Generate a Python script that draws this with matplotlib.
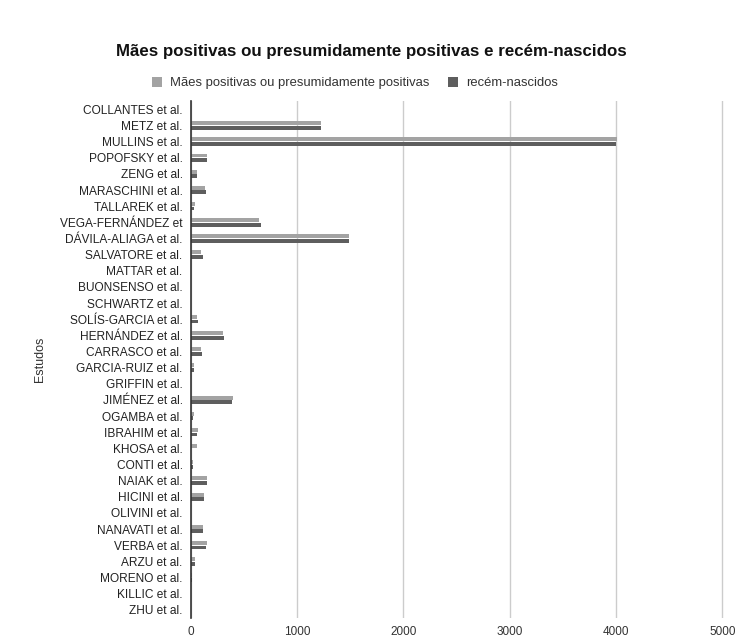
import numpy as np
import matplotlib.pyplot as plt

plt.rcParams['font.family'] = ['Liberation Sans', 'DejaVu Sans']

# Dados
estudos = ['COLLANTES et al.', 'METZ et al.', 'MULLINS et al.', 'POPOFSKY et al.',
           'ZENG et al.', 'MARASCHINI et al.', 'TALLAREK et al.', 'VEGA-FERNÁNDEZ et',
           'DÁVILA-ALIAGA et al.', 'SALVATORE et al.', 'MATTAR et al.', 'BUONSENSO et al.',
           'SCHWARTZ et al.', 'SOLÍS-GARCIA et al.', 'HERNÁNDEZ et al.', 'CARRASCO et al.',
           'GARCIA-RUIZ et al.', 'GRIFFIN et al.', 'JIMÉNEZ et al.', 'OGAMBA et al.',
           'IBRAHIM et al.', 'KHOSA et al.', 'CONTI et al.', 'NAIAK et al.',
           'HICINI et al.', 'OLIVINI et al.', 'NANAVATI et al.', 'VERBA et al.',
           'ARZU et al.', 'MORENO et al.', 'KILLIC et al.', 'ZHU et al.']
maes = [5, 1220, 4010, 150, 60, 135, 40, 645,
        1490, 95, 5, 3, 3, 60, 305, 95,
        30, 3, 400, 30, 65, 60, 20, 150,
        125, 3, 115, 150, 40, 10, 3, 3]
recem = [5, 1220, 4000, 150, 60, 140, 30, 658,
         1490, 115, 5, 3, 3, 65, 315, 105,
         30, 3, 390, 15, 60, 5, 20, 150,
         120, 3, 115, 145, 35, 10, 3, 3]

fig = plt.figure(figsize=(7.43, 6.41), dpi=100)
ax = fig.add_axes([0.257, 0.036, 0.718, 0.806])

y = np.arange(len(estudos))
h = 0.24
ax.barh(y - 0.14, maes, height=h, color='#a3a3a3', label='Mães positivas ou presumidamente positivas')
ax.barh(y + 0.14, recem, height=h, color='#5e5e5e', label='recém-nascidos')

ax.set_ylim(len(estudos) - 0.5, -0.5)
ax.set_xlim(0, 5020)
ax.set_xticks([0, 1000, 2000, 3000, 4000, 5000])
ax.set_yticks(y)
ax.set_yticklabels(estudos, fontsize=8.6, color='#222222')
ax.tick_params(axis='x', labelsize=8.5, colors='#333333', length=0, pad=6)
ax.tick_params(axis='y', length=0, pad=6)

ax.grid(axis='x', color='#cccccc', linewidth=1)
ax.set_axisbelow(True)
for s in ['top', 'right', 'bottom']:
    ax.spines[s].set_visible(False)
ax.spines['left'].set_color('#333333')
ax.spines['left'].set_linewidth(1.2)
ax.spines['left'].set_zorder(5)

ax.set_ylabel('Estudos', fontsize=9, color='#333333', labelpad=10)

fig.suptitle('Mães positivas ou presumidamente positivas e recém-nascidos',
             fontsize=12.2, fontweight='bold', color='#111111', x=0.5, y=0.932)
fig.legend(loc='center', bbox_to_anchor=(355 / 743, 1 - 83 / 641), ncol=2, frameon=False,
           fontsize=9.4, handlelength=0.8, handleheight=0.8, columnspacing=1.4,
           handletextpad=0.6, labelcolor='#333333')

plt.savefig('out.png', dpi=100, facecolor='white')
